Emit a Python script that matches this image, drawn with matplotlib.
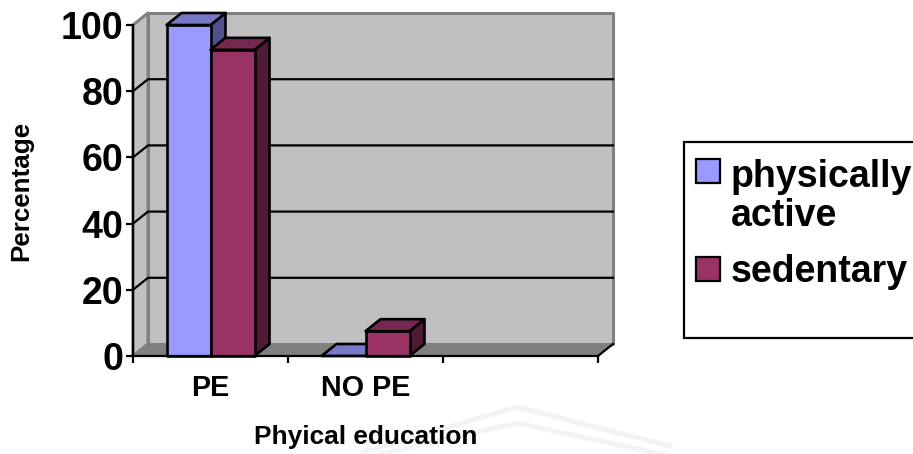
import matplotlib
matplotlib.use("Agg")
import matplotlib.pyplot as plt
from matplotlib.lines import Line2D
from matplotlib.patches import Polygon, Rectangle

plt.rcParams['font.family'] = ['Liberation Sans', 'DejaVu Sans']
plt.rcParams['font.weight'] = 'bold'

categories = ["PE", "NO PE"]
active = [100, 0]
sedentary = [92.5, 7.5]
y_ticks = [0, 20, 40, 60, 80, 100]
series_names = ["physically\nactive", "sedentary"]
series_colors = ['#9999ff', '#993366']

W, H = 913, 454
# front plane of the 3d box, in pixels
x0, x1, y0, y1 = 133, 598, 356, 25

fig = plt.figure(figsize=(W/100, H/100), dpi=100)

# pale roof shape behind the bottom of the figure
for ys in [(452, 407, 446), (458, 423, 456)]:
    fig.add_artist(Line2D([363/W, 517/W, 670/W], [1-y/H for y in ys], color='#f3f3f3',
                          lw=3.5, transform=fig.transFigure, zorder=0))

ax = fig.add_axes([x0/W, 1-y0/H, (x1-x0)/W, (y0-y1)/H])
ax.set_xlim(0, 3)
ax.set_ylim(0, 100)
ax.patch.set_visible(False)

# depth of the fake 3d, in data units
dx = 15 * 3 / (x1-x0)
dy = 12 * 100 / (y0-y1)
bw = 44 * 3 / (x1-x0)


def poly(pts, fc, ec='black', lw=1.9, z=2):
    ax.add_patch(Polygon(pts, closed=True, fc=fc, ec=ec, lw=lw, zorder=z,
                         joinstyle='round', clip_on=False))


def box(x, v, front, top, side, z):
    # side and top first, front goes over them
    if v > 0:
        poly([(x+bw, 0), (x+bw+dx, dy), (x+bw+dx, v+dy), (x+bw, v)], side, z=z)
        poly([(x, v), (x+dx, v+dy), (x+bw+dx, v+dy), (x+bw, v)], top, z=z)
        poly([(x, 0), (x+bw, 0), (x+bw, v), (x, v)], front, z=z)
    else:
        poly([(x, 0), (x+dx, dy), (x+bw+dx, dy), (x+bw, 0)], top, z=z)


# walls and floor
poly([(dx, dy), (3+dx, dy), (3+dx, 100+dy), (dx, 100+dy)], '#c0c0c0', '#808080', 2.2, 1)
poly([(0, 0), (dx, dy), (dx, 100+dy), (0, 100)], '#c0c0c0', '#808080', 2.2, 1)
poly([(0, 0), (dx, dy), (3+dx, dy), (3, 0)], '#808080', '#808080', 1, 1)

for v in y_ticks[1:-1]:
    ax.plot([0, dx, 3+dx], [v, v+dy, v+dy], color='black', lw=1.6, zorder=1.5,
            clip_on=False)

for i in range(len(categories)):
    c = i + 0.5
    box(c-bw, active[i], series_colors[0], '#7878c8', '#50508a', 3+i)
    box(c, sedentary[i], series_colors[1], '#782850', '#501a36', 3.5+i)

ax.plot([3, 3+dx], [0, dy], color='black', lw=1.6, zorder=2, clip_on=False)

for s in ['top', 'right']:
    ax.spines[s].set_visible(False)
for s in ['left', 'bottom']:
    ax.spines[s].set_linewidth(1.6)
    ax.spines[s].set_zorder(6)

ax.set_yticks(y_ticks)
ax.set_xticks([0, 1, 2, 3])
ax.set_xticklabels([])
ax.tick_params(axis='y', length=5, width=1.6, labelsize=27, pad=2)
ax.tick_params(axis='x', length=5, width=1.6)
for lab in ax.get_yticklabels():
    lab.set_fontweight('bold')

for i, name in enumerate(categories):
    ax.text(i+0.5, -9.6, name, ha='center', va='center', fontsize=20.7, fontweight='bold')

fig.text(366/W, 1-437/H, "Phyical education", ha='center', va='center',
         fontsize=18.9, fontweight='bold')
fig.text(21/W, 1-191/H, "Percentage", ha='center', va='center', rotation=90,
         fontsize=18.7, fontweight='bold')

# legend frame runs off the right side of the figure
fig.add_artist(Rectangle((684/W, 1-338/H), 240/W, 196/H, fc='white', ec='black',
                         lw=1.6, transform=fig.transFigure))
swatch_tops = [159, 257]
baselines = [226, 282]
for name, color, top, base in zip(series_names, series_colors, swatch_tops, baselines):
    fig.add_artist(Rectangle((696/W, 1-(top+24)/H), 24/W, 24/H, fc=color, ec='black',
                             lw=1.6, transform=fig.transFigure))
    # baseline here is the one of the last line
    fig.text(731/W, 1-base/H, name, ha='left', va='baseline', fontsize=27,
             fontweight='bold', linespacing=1.1)

fig.savefig("out.png", dpi=100)
